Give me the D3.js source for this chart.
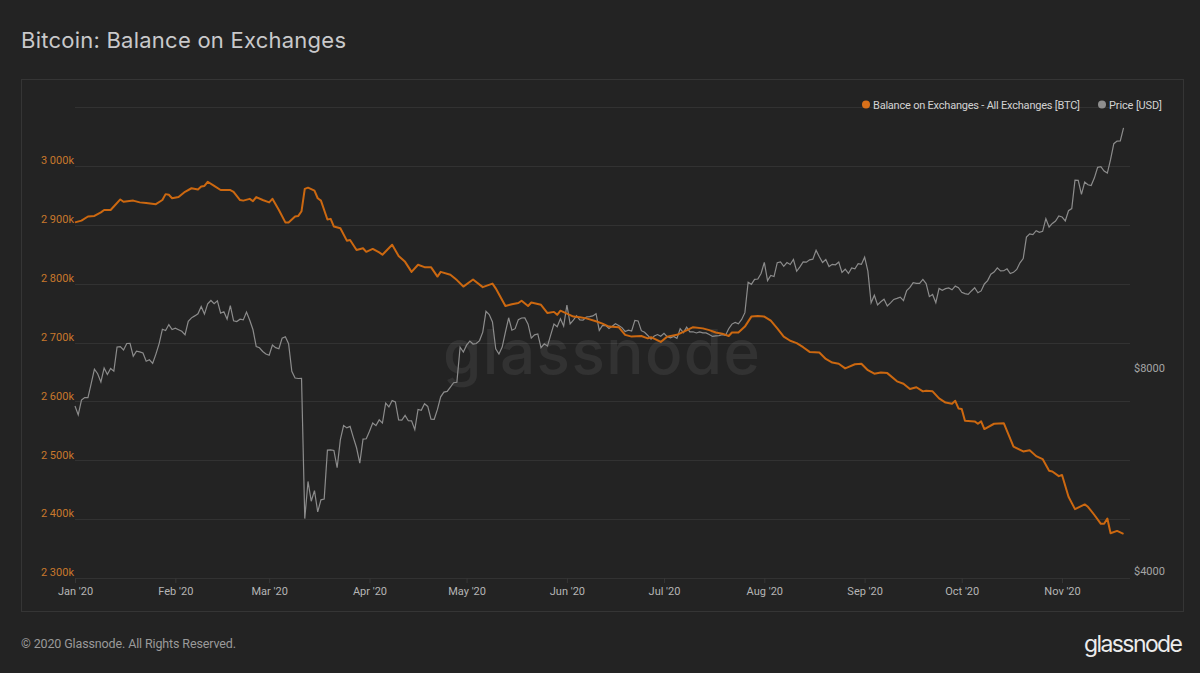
<!DOCTYPE html>
<html>
<head>
<meta charset="utf-8">
<script src="https://cdn.jsdelivr.net/npm/d3@7"></script>
<style>
  html, body { margin: 0; padding: 0; background: #232323; }
  svg { display: block; font-family: Roboto, "Noto Sans", sans-serif; }
</style>
</head>
<body>
<script>
const WIDTH = 1200
const HEIGHT = 673
const PLOT_LEFT = 75
const PLOT_RIGHT = 1130
const PLOT_TOP = 107
const PLOT_BOTTOM = 578

// balance on exchanges, thousands of BTC, keyed by days since 1 Jan 2020
var balanceDays = [0, 2, 4, 6, 8, 9, 11, 12, 14, 15, 18, 20, 22, 25, 27, 28, 29, 30, 32, 34, 36, 38, 39, 40, 41, 43, 45, 48, 49, 51, 52, 54, 55, 56, 58, 60, 61, 63, 65, 66, 68, 69, 70, 71, 72, 74, 75, 76, 78, 79, 80, 82, 84, 85, 87, 89, 90, 92, 94, 95, 98, 100, 102, 104, 106, 108, 110, 112, 113, 116, 118, 120, 123, 126, 129, 130, 133, 135, 137, 138, 140, 141, 144, 146, 148, 149, 150, 152, 154, 156, 158, 161, 163, 165, 168, 170, 172, 175, 177, 178, 181, 183, 186, 188, 191, 194, 196, 198, 200, 202, 203, 205, 207, 209, 211, 213, 215, 217, 219, 221, 223, 225, 227, 230, 232, 234, 236, 238, 241, 243, 245, 247, 249, 251, 254, 256, 258, 260, 262, 263, 265, 267, 269, 271, 272, 273, 274, 275, 278, 279, 280, 281, 284, 287, 290, 293, 295, 297, 299, 301, 302, 304, 305, 307, 309, 312, 313, 315, 317, 318, 319, 320, 322, 324]
var balanceValues = [2904, 2907, 2914, 2915, 2921, 2925, 2925, 2931, 2943, 2939, 2941, 2938, 2937, 2935, 2942, 2952, 2951, 2945, 2947, 2956, 2962, 2960, 2965, 2966, 2973, 2966, 2959, 2959, 2956, 2942, 2941, 2944, 2940, 2947, 2942, 2938, 2944, 2925, 2904, 2904, 2914, 2915, 2923, 2961, 2963, 2958, 2945, 2941, 2909, 2910, 2897, 2894, 2873, 2874, 2857, 2860, 2854, 2859, 2853, 2849, 2866, 2847, 2837, 2820, 2832, 2828, 2828, 2812, 2820, 2815, 2806, 2795, 2807, 2794, 2800, 2792, 2762, 2765, 2767, 2771, 2762, 2768, 2764, 2750, 2752, 2747, 2754, 2749, 2744, 2743, 2741, 2736, 2732, 2727, 2726, 2713, 2710, 2711, 2707, 2709, 2701, 2710, 2713, 2718, 2726, 2724, 2721, 2717, 2715, 2711, 2717, 2717, 2727, 2744, 2745, 2744, 2737, 2724, 2710, 2703, 2699, 2692, 2684, 2683, 2672, 2666, 2664, 2656, 2663, 2664, 2653, 2647, 2649, 2648, 2634, 2630, 2621, 2624, 2617, 2618, 2617, 2605, 2598, 2596, 2601, 2588, 2587, 2567, 2566, 2562, 2566, 2553, 2562, 2563, 2523, 2515, 2517, 2507, 2502, 2482, 2481, 2473, 2475, 2438, 2417, 2425, 2421, 2407, 2392, 2392, 2401, 2376, 2380, 2375]

// daily BTC price in USD
var priceJan = [7200, 6985, 7345, 7410, 7411, 7769, 8164, 8038, 7818, 8197, 8020, 8184, 8110, 8810, 8821, 8720, 8914, 8916, 8535, 8681, 8664, 8630, 8388, 8433, 8331, 8597, 8910, 9358, 9317, 9509, 9351]
var priceFeb = [9393, 9344, 9294, 9181, 9613, 9730, 9796, 9866, 10117, 9857, 10208, 10326, 10215, 10313, 9889, 9934, 9690, 10142, 9634, 9608, 9687, 9663, 9924, 9650, 9342, 8820, 8784, 8673, 8600]
var priceMar = [8562, 8869, 8787, 8756, 9078, 9122, 8909, 8108, 7923, 7909, 7911, 4900, 5563, 5200, 5392, 5014, 5225, 5238, 6191, 6198, 6185, 5830, 6416, 6734, 6681, 6716, 6469, 6242, 5922, 6429, 6438]
var priceApr = [6606, 6793, 6733, 6867, 6791, 7271, 7176, 7334, 7302, 6865, 6859, 6971, 6845, 6842, 6642, 7116, 7096, 7257, 7189, 6881, 6880, 7117, 7429, 7550, 7569, 7679, 7795, 7807, 8801, 8658]
var priceMay = [8864, 8988, 8897, 8912, 9003, 9268, 9951, 9842, 9593, 8756, 8601, 8804, 9269, 9733, 9328, 9377, 9670, 9726, 9729, 9523, 9081, 9182, 9209, 8790, 8906, 8835, 9181, 9525, 9439, 9700, 9461]
var priceJun = [10167, 9529, 9656, 9800, 9665, 9653, 9759, 9771, 9795, 9870, 9321, 9480, 9475, 9386, 9454, 9538, 9480, 9411, 9288, 9332, 9303, 9648, 9629, 9313, 9264, 9162, 9045, 9143, 9190, 9137]
var priceJul = [9228, 9123, 9087, 9132, 9073, 9375, 9252, 9428, 9277, 9278, 9240, 9276, 9243, 9243, 9192, 9132, 9151, 9159, 9185, 9164, 9374, 9525, 9581, 9536, 9677, 9905, 10990, 10912, 11100, 11111, 11323]
var priceAug = [11759, 11053, 11246, 11205, 11747, 11779, 11601, 11754, 11675, 11878, 11410, 11584, 11784, 11768, 11865, 11892, 12254, 11991, 11758, 11878, 11592, 11681, 11664, 11774, 11366, 11488, 11323, 11542, 11507, 11711, 11680]
var priceSep = [11970, 11414, 10245, 10512, 10169, 10280, 10370, 10131, 10242, 10363, 10400, 10442, 10323, 10680, 10796, 10974, 10948, 10944, 11094, 10938, 10462, 10538, 10246, 10761, 10693, 10750, 10776, 10709, 10845, 10784]
var priceOct = [10620, 10570, 10542, 10667, 10786, 10600, 10668, 10925, 11050, 11297, 11376, 11542, 11425, 11430, 11505, 11323, 11368, 11481, 11742, 11917, 12823, 12966, 12931, 13108, 13031, 13075, 13654, 13272, 13437, 13546, 13781]
var priceNov = [13737, 13550, 14030, 14133, 15579, 15565, 14833, 15479, 15332, 15290, 15701, 16276, 16317, 16068, 15955, 16716, 17645, 17804, 17817, 18621]

var balanceTicks = [2300, 2400, 2500, 2600, 2700, 2800, 2900, 3000, 3100]
var priceTicks = [4000, 8000]
var monthLabels = ["Jan '20", "Feb '20", "Mar '20", "Apr '20", "May '20", "Jun '20", "Jul '20", "Aug '20", "Sep '20", "Oct '20", "Nov '20"]

var startDate = new Date(Date.UTC(2020, 0, 1))
var endDate = new Date(Date.UTC(2020, 10, 22))

var createChart = function(){
    var svg = d3.select("body").append("svg")
        .attr("width", WIDTH)
        .attr("height", HEIGHT);

    var x = d3.scaleUtc().domain([startDate, endDate]).range([PLOT_LEFT, PLOT_RIGHT]);
    var yBal = d3.scaleLinear().domain([2300, 3100]).range([PLOT_BOTTOM, PLOT_TOP]);
    var yPrice = d3.scaleLog().domain([4000, 20000]).range([PLOT_BOTTOM, PLOT_TOP]);

    createFrame(svg);
    createAxes(svg, x, yBal, yPrice);
    createWatermark(svg);
    createLines(svg, x, yBal, yPrice);
    createLegend(svg);
}

var createFrame = function(svg){
    svg.append("text")
        .attr("x", 21)
        .attr("y", 48)
        .attr("font-size", 22)
        .attr("font-family", "Inter, sans-serif")
        .attr("fill", "#c9c9cb")
        .attr("textLength", 325)
        .text("Bitcoin: Balance on Exchanges");

    svg.append("rect")
        .attr("x", 21.5)
        .attr("y", 79.5)
        .attr("width", 1162)
        .attr("height", 532)
        .attr("fill", "none")
        .attr("stroke", "#353535");

    svg.append("text")
        .attr("x", 21)
        .attr("y", 648)
        .attr("font-size", 12.5)
        .attr("fill", "#9a9a9a")
        .attr("textLength", 215)
        .text("\u00a9 2020 Glassnode. All Rights Reserved.");

    svg.append("text")
        .attr("x", 1183)
        .attr("y", 652)
        .attr("text-anchor", "end")
        .attr("font-size", 23)
        .attr("font-family", "Inter, sans-serif")
        .attr("fill", "#ececec")
        .attr("textLength", 99)
        .text("glassnode");
}

var createAxes = function(svg, x, yBal, yPrice){
    var fmt = d3.formatLocale({decimal: ".", thousands: " ", grouping: [3], currency: ["$", ""]}).format(",");

    // horizontal grid
    svg.append("g").selectAll("line")
        .data(balanceTicks)
        .join("line")
        .attr("x1", PLOT_LEFT)
        .attr("x2", PLOT_RIGHT)
        .attr("y1", d => Math.round(yBal(d)) + 0.5)
        .attr("y2", d => Math.round(yBal(d)) + 0.5)
        .attr("stroke", "#323232");

    var left = svg.append("g")
        .attr("transform", "translate(" + (PLOT_LEFT - 1) + ",0)")
        .call(d3.axisLeft(yBal).tickValues(balanceTicks.slice(0, -1)).tickSize(0).tickPadding(0).tickFormat(d => fmt(d) + "k"));
    left.select(".domain").remove();
    left.selectAll("text")
        .attr("dy", "-0.2em")
        .attr("font-size", 11)
        .attr("font-family", "Roboto, sans-serif")
        .attr("fill", "#c8782c");

    var right = svg.append("g")
        .attr("transform", "translate(1134,0)")
        .call(d3.axisRight(yPrice).tickValues(priceTicks).tickSize(0).tickPadding(0).tickFormat(d => "$" + d));
    right.select(".domain").remove();
    right.selectAll("text")
        .attr("dy", "-0.3em")
        .attr("font-size", 11)
        .attr("font-family", "Roboto, sans-serif")
        .attr("fill", "#a5a5a5");

    var months = d3.utcMonth.range(startDate, endDate);
    var bottom = svg.append("g")
        .attr("transform", "translate(0," + PLOT_BOTTOM + ")")
        .call(d3.axisBottom(x).tickValues(months).tickSize(5).tickPadding(4).tickFormat((d, i) => monthLabels[i]));
    bottom.select(".domain").remove();
    bottom.selectAll("line").attr("stroke", "#363636");
    bottom.selectAll("text")
        .attr("font-size", 11)
        .attr("font-family", "Roboto, sans-serif")
        .attr("fill", "#b5b5b5");
}

var createWatermark = function(svg){
    svg.append("text")
        .attr("x", 443)
        .attr("y", 374)
        .attr("font-size", 62)
        .attr("font-weight", 500)
        .attr("font-family", "Inter, sans-serif")
        .attr("textLength", 317)
        .attr("fill", "#ffffff")
        .attr("fill-opacity", 0.07)
        .text("glassnode");
}

var createLines = function(svg, x, yBal, yPrice){
    var prices = [].concat(priceJan, priceFeb, priceMar, priceApr, priceMay, priceJun, priceJul, priceAug, priceSep, priceOct, priceNov);
    var priceData = prices.map((p, i) => ({date: d3.utcDay.offset(startDate, i), value: p}));
    var balanceData = balanceDays.map((d, i) => ({date: d3.utcDay.offset(startDate, d), value: balanceValues[i]}));

    svg.append("path")
        .datum(priceData)
        .attr("fill", "none")
        .attr("stroke", "#8c8c8c")
        .attr("stroke-width", 1.2)
        .attr("d", d3.line().x(d => x(d.date)).y(d => yPrice(d.value)));

    svg.append("path")
        .datum(balanceData)
        .attr("fill", "none")
        .attr("stroke", "#cc6810")
        .attr("stroke-width", 2)
        .attr("stroke-linejoin", "round")
        .attr("d", d3.line().x(d => x(d.date)).y(d => yBal(d.value)));
}

var createLegend = function(svg){
    var legend = svg.append("g").attr("font-size", 11).attr("fill", "#d2d2d2");
    legend.append("circle").attr("cx", 866).attr("cy", 104.5).attr("r", 4).attr("fill", "#d8701a");
    legend.append("text").attr("x", 873).attr("y", 108.5).attr("textLength", 207).text("Balance on Exchanges - All Exchanges [BTC]");
    legend.append("circle").attr("cx", 1102).attr("cy", 104.5).attr("r", 4).attr("fill", "#8e8e8e");
    legend.append("text").attr("x", 1109).attr("y", 108.5).attr("textLength", 53).text("Price [USD]");
}

createChart();
</script>
</body>
</html>
